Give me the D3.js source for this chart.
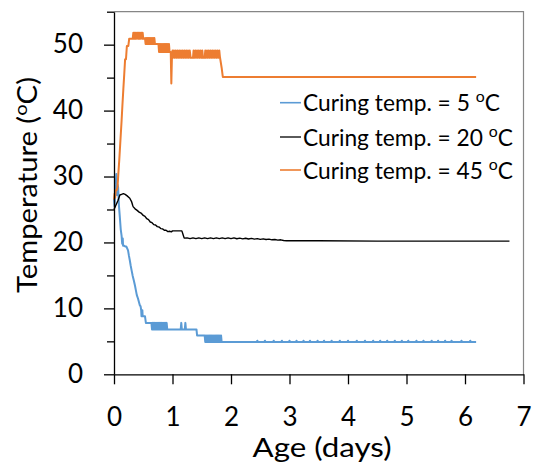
<!DOCTYPE html>
<html>
<head>
<meta charset="utf-8">
<script src="https://cdn.jsdelivr.net/npm/d3@7"></script>
<style>
  html, body { margin: 0; padding: 0; background: #fff; }
  text { font-family: Lato, "Open Sans", sans-serif; fill: #000; }
</style>
</head>
<body>
<script>
// ---------------- DATA ----------------
const xTicks = [0, 1, 2, 3, 4, 5, 6, 7];
const yTicks = [0, 10, 20, 30, 40, 50];
const yMinorTicks = [5, 15, 25, 35, 45, 55];
const seriesNames = ["Curing temp. = 5 ", "Curing temp. = 20 ", "Curing temp. = 45 "];

// [age (days), temperature (°C)]
const temp5 = [
  [0,26.6],[0.01,25.4],[0.02,27.8],[0.03,28.8],[0.04,30.4],[0.05,27.2],[0.06,28.8],[0.07,28.4],
  [0.085,25.5],[0.1,23.8],[0.115,22.0],[0.13,21.0],[0.14,19.8],[0.15,20.6],[0.155,19.5],[0.17,19.5],
  [0.19,19.4],[0.21,19.4],[0.24,18.8],[0.255,18.0],[0.27,17.3],[0.285,16.5],[0.3,15.8],[0.32,14.9],
  [0.34,14.2],[0.36,13.4],[0.375,12.7],[0.39,12.0],[0.41,11.5],[0.425,11.0],[0.44,10.5],[0.455,10.3],
  [0.465,9.7],[0.47,8.8],[0.475,9.7],[0.48,8.8],[0.485,9.7],[0.49,8.8],[0.53,8.8],[0.545,7.8],[0.64,7.8],
  [0.65,6.8],[0.66,7.8],[0.67,6.8],[0.68,7.8],[0.69,6.8],[0.70,7.8],[0.71,6.8],[0.72,7.8],[0.73,6.8],
  [0.74,7.8],[0.75,6.8],[0.76,7.8],[0.77,6.8],[0.78,7.8],[0.79,6.8],[0.80,7.8],[0.81,6.8],[0.82,7.8],
  [0.83,6.8],[0.84,7.8],[0.85,6.8],[0.86,7.8],[0.87,6.8],[0.88,7.8],[0.89,6.8],[0.90,7.8],[0.91,6.8],
  [1.14,6.8],[1.15,7.8],[1.16,6.8],[1.21,6.8],[1.22,7.8],[1.23,6.8],[1.41,6.8],[1.42,5.9],[1.55,5.9],
  [1.56,4.9],[1.57,5.9],[1.58,4.9],[1.59,5.9],[1.60,4.9],[1.61,5.9],[1.62,4.9],[1.63,5.9],[1.64,4.9],
  [1.65,5.9],[1.66,4.9],[1.67,5.9],[1.68,4.9],[1.69,5.9],[1.70,4.9],[1.71,5.9],[1.72,4.9],[1.73,5.9],
  [1.74,4.9],[1.75,5.9],[1.76,4.9],[1.77,5.9],[1.78,4.9],[1.79,5.9],[1.80,4.9],[1.81,5.9],[1.82,4.9],
  [1.83,5.9],[1.84,4.9],
  [2.44,4.9],[2.45,5.1],[2.46,4.9],[2.57,4.9],[2.58,5.1],[2.59,4.9],[2.72,4.9],[2.73,5.1],[2.74,4.9],
  [2.86,4.9],[2.87,5.1],[2.88,4.9],[2.99,4.9],[3.0,5.1],[3.01,4.9],[3.11,4.9],[3.12,5.1],[3.13,4.9],
  [3.23,4.9],[3.24,5.1],[3.25,4.9],[3.34,4.9],[3.35,5.1],[3.36,4.9],[3.47,4.9],[3.48,5.1],[3.49,4.9],
  [3.58,4.9],[3.59,5.1],[3.60,4.9],[3.71,4.9],[3.72,5.1],[3.73,4.9],[3.85,4.9],[3.86,5.1],[3.87,4.9],
  [3.99,4.9],[4.0,5.1],[4.01,4.9],[4.14,4.9],[4.15,5.1],[4.16,4.9],[4.28,4.9],[4.29,5.1],[4.30,4.9],
  [4.42,4.9],[4.43,5.1],[4.44,4.9],[4.54,4.9],[4.55,5.1],[4.56,4.9],[4.66,4.9],[4.67,5.1],[4.68,4.9],
  [4.79,4.9],[4.80,5.1],[4.81,4.9],[4.91,4.9],[4.92,5.1],[4.93,4.9],[5.02,4.9],[5.03,5.1],[5.04,4.9],
  [5.16,4.9],[5.17,5.1],[5.18,4.9],[5.28,4.9],[5.29,5.1],[5.30,4.9],[5.42,4.9],[5.43,5.1],[5.44,4.9],
  [5.53,4.9],[5.54,5.1],[5.55,4.9],[5.65,4.9],[5.66,5.1],[5.67,4.9],[5.76,4.9],[5.77,5.1],[5.78,4.9],
  [5.93,4.9],[5.94,5.1],[5.95,4.9],[6.08,4.9],[6.09,5.1],[6.10,4.9],[6.19,4.9]
];

const temp20 = [
  [0,25.0],[0.03,25.6],[0.07,26.4],[0.10,27.2],[0.13,27.3],[0.16,27.4],[0.19,27.3],[0.22,27.1],
  [0.27,26.7],[0.30,26.2],[0.32,25.6],[0.33,25.4],[0.36,25.1],[0.39,24.9],[0.43,24.6],[0.47,24.4],
  [0.50,24.1],[0.53,23.95],[0.56,23.6],[0.59,23.45],[0.62,23.1],[0.65,23.0],[0.68,22.7],[0.71,22.65],
  [0.74,22.4],[0.77,22.35],[0.80,22.1],[0.83,22.05],[0.86,21.85],[0.89,21.85],[0.92,21.65],[0.95,21.7],
  [0.98,21.6],[1.0,21.75],[1.16,21.75],[1.18,21.2],[1.20,20.65],
  [1.25,20.7],[1.30,20.58],[1.35,20.7],[1.40,20.58],[1.45,20.7],[1.50,20.58],[1.55,20.7],
  [1.60,20.58],[1.65,20.7],[1.70,20.58],[1.75,20.7],[1.80,20.58],[1.85,20.7],[1.90,20.58],
  [1.95,20.7],[2.00,20.58],[2.05,20.7],[2.10,20.56],[2.15,20.66],[2.20,20.54],[2.25,20.64],
  [2.30,20.52],[2.35,20.62],[2.40,20.5],[2.45,20.58],[2.50,20.46],[2.55,20.55],[2.60,20.44],
  [2.65,20.5],[2.70,20.4],[2.75,20.45],[2.80,20.35],[2.85,20.4],[2.90,20.3],[2.95,20.25],
  [3.5,20.25],[4.5,20.2],[5.5,20.2],[6.76,20.2]
];

const temp45 = [
  [0,26.5],[0.01,27.4],[0.02,26.8],[0.03,27.9],[0.045,27.9],[0.06,28.4],[0.074,30.4],[0.09,32.5],
  [0.11,35.5],[0.13,38.5],[0.145,41.0],[0.16,43.3],[0.175,45.5],[0.19,47.8],[0.205,47.8],[0.22,49.8],
  [0.245,49.8],[0.26,50.9],[0.32,50.9],
  [0.33,51.8],[0.34,50.9],[0.35,51.8],[0.36,50.9],[0.37,51.8],[0.38,50.9],[0.39,51.8],[0.40,51.8],
  [0.41,50.9],[0.42,51.8],[0.43,50.9],[0.44,51.8],[0.45,50.9],[0.46,51.8],[0.47,51.8],[0.48,50.9],
  [0.49,51.8],[0.50,50.9],[0.52,50.9],
  [0.53,51.0],[0.54,50.1],[0.55,51.0],[0.56,50.1],[0.57,51.0],[0.58,50.1],[0.59,51.0],[0.60,50.1],
  [0.61,51.0],[0.62,50.1],[0.63,51.0],[0.64,50.1],[0.65,51.0],[0.66,50.1],[0.67,51.0],[0.68,50.1],
  [0.69,51.0],[0.70,50.1],[0.76,50.1],
  [0.77,48.9],[0.78,50.1],[0.79,48.9],[0.80,50.1],[0.81,48.9],[0.82,50.1],[0.83,48.9],[0.84,50.1],
  [0.85,48.9],[0.86,50.1],[0.87,48.9],[0.88,50.1],[0.89,48.9],[0.90,50.1],[0.91,48.9],[0.92,50.1],
  [0.93,48.9],[0.94,50.1],[0.95,48.9],[0.97,48.9],[0.98,44.1],[0.99,48.0],
  [1.0,49.1],[1.01,48.0],[1.025,49.1],[1.04,48.0],[1.055,49.1],[1.07,48.0],[1.085,49.1],[1.10,48.0],
  [1.115,49.1],[1.13,48.0],[1.145,49.1],[1.16,48.0],[1.175,49.1],[1.19,48.0],[1.205,49.1],[1.22,48.0],
  [1.235,49.1],[1.25,48.0],[1.265,49.1],[1.28,48.0],[1.295,49.1],[1.31,48.0],[1.35,48.0],
  [1.36,49.1],[1.375,48.0],[1.39,49.1],[1.405,48.0],[1.42,49.1],[1.435,48.0],[1.45,49.1],[1.465,48.0],
  [1.48,49.1],[1.495,48.0],[1.51,49.1],[1.52,48.0],[1.55,48.0],
  [1.56,49.1],[1.575,48.0],[1.59,49.1],[1.605,48.0],[1.62,49.1],[1.635,48.0],[1.65,49.1],[1.665,48.0],
  [1.68,49.1],[1.695,48.0],[1.71,49.1],[1.725,48.0],[1.74,49.1],[1.755,48.0],[1.77,49.1],[1.785,48.0],
  [1.80,49.1],[1.81,48.2],[1.84,46.5],[1.86,45.1],[3.0,45.1],[4.5,45.1],[6.19,45.1]
];

const series = [temp5, temp20, temp45];
const colors = ["#5B9BD5", "#000000", "#ED7D31"];
const widths = [2, 1.4, 2];

// ---------------- CHART ----------------
const W = 540, H = 471;
const svg = d3.select("body").append("svg").attr("width", W).attr("height", H);

const x = d3.scaleLinear().domain([0, 7]).range([114, 523.5]);
const y = d3.scaleLinear().domain([0, 55]).range([374.3, 11.7]);

// frame (top / right)
svg.append("path")
  .attr("d", `M${x(0)},${y(55)}H${x(7)}V${y(0)}`)
  .attr("fill", "none").attr("stroke", "#868686").attr("stroke-width", 1.2);

// lines
const line = d3.line().x(d => x(d[0])).y(d => y(d[1]));
series.forEach((s, i) => {
  svg.append("path").datum(s)
    .attr("d", line)
    .attr("fill", "none")
    .attr("stroke", colors[i])
    .attr("stroke-width", widths[i])
    .attr("stroke-linejoin", "round");
});

// y minor ticks
svg.append("g").attr("transform", `translate(${x(0)},0)`)
  .call(d3.axisLeft(y).tickValues(yMinorTicks).tickSize(7).tickFormat(""))
  .call(g => g.select(".domain").remove())
  .call(g => g.selectAll("line").attr("stroke", "#000").attr("stroke-width", 1.3));

// y axis
svg.append("g").attr("transform", `translate(${x(0)},0)`)
  .call(d3.axisLeft(y).tickValues(yTicks).tickSize(10).tickSizeOuter(0).tickPadding(21).tickFormat(d3.format("d")))
  .call(g => g.select(".domain").attr("stroke", "#000").attr("stroke-width", 1.3))
  .call(g => g.selectAll("line").attr("stroke", "#000").attr("stroke-width", 1.3))
  .call(g => g.selectAll("text").attr("font-size", 26).attr("font-family", "Lato").attr("fill", "#000"));

// x axis
svg.append("g").attr("transform", `translate(0,${y(0)})`)
  .call(d3.axisBottom(x).tickValues(xTicks).tickSize(10).tickSizeOuter(0).tickPadding(23).tickFormat(d3.format("d")))
  .call(g => g.select(".domain").attr("stroke", "#000").attr("stroke-width", 1.3))
  .call(g => g.selectAll("line").attr("stroke", "#000").attr("stroke-width", 1.3))
  .call(g => g.selectAll("text").attr("font-size", 26).attr("font-family", "Lato").attr("fill", "#000"));

function fitX(textSel, target) {
  const w = textSel.node().getComputedTextLength();
  return target / w;
}

// x title
const xt = svg.append("text").attr("font-size", 26).attr("text-anchor", "middle").text("Age (days)");
xt.attr("transform", `translate(322,456.5) scale(${fitX(xt, 139)},1)`);

// y title
const yt = svg.append("text").attr("font-size", 26).attr("text-anchor", "middle");
yt.append("tspan").text("Temperature (");
yt.append("tspan").attr("font-size", 18).attr("dy", -10).text("o");
yt.append("tspan").attr("dy", 10).text("C)");
yt.attr("transform", `translate(37,185) rotate(-90) scale(${fitX(yt, 216)},1)`);

// legend
const legY = [102.7, 137, 170];
const legW = [197, 210, 210];
seriesNames.forEach((name, i) => {
  svg.append("line")
    .attr("x1", 280).attr("x2", 301).attr("y1", legY[i]).attr("y2", legY[i])
    .attr("stroke", colors[i]).attr("stroke-width", widths[i] === 2 ? 1.6 : 1.3);
  const t = svg.append("text").attr("font-size", 23);
  t.append("tspan").text(name);
  t.append("tspan").attr("font-size", 16).attr("dy", -9).text("o");
  t.append("tspan").attr("dy", 9).text("C");
  t.attr("transform", `translate(303,${legY[i] + 8.5}) scale(${fitX(t, legW[i])},1)`);
});
</script>
</body>
</html>
